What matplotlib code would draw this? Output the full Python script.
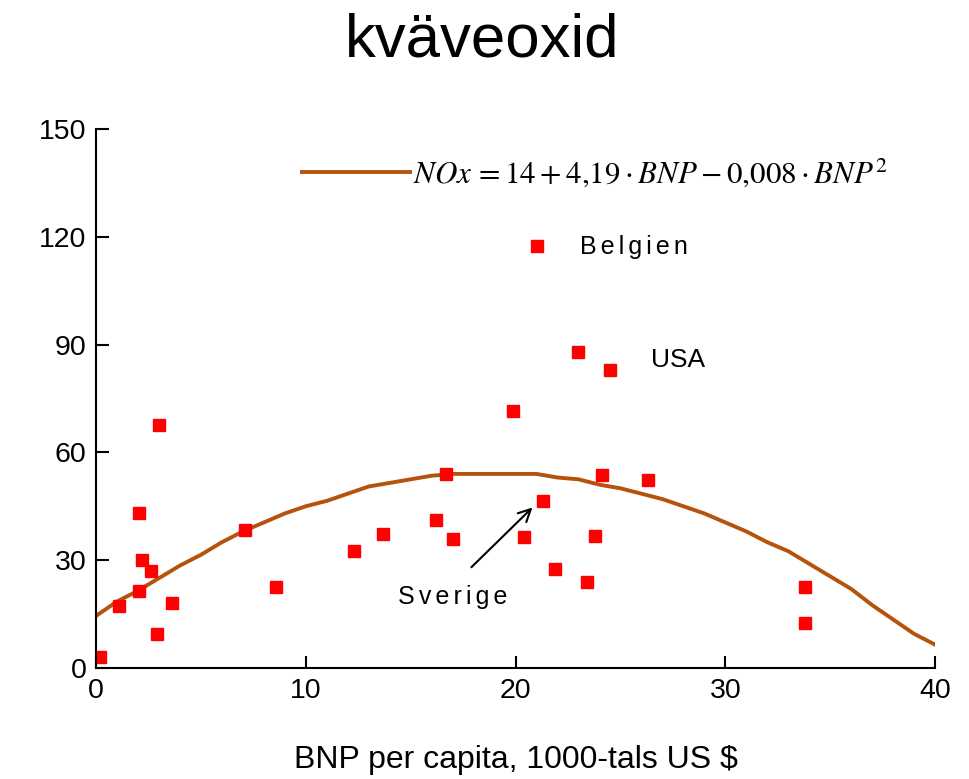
import matplotlib
matplotlib.use("Agg")
from matplotlib import pyplot

pyplot.rcParams["font.family"] = ["Liberation Sans", "DejaVu Sans"]
pyplot.rcParams["mathtext.fontset"] = "stix"

# Scatter data: BNP per capita (1000 US $) vs NOx
bnp = [0.2, 1.1, 2.05, 2.07, 2.2, 2.6, 3.0, 2.9, 3.6, 7.1, 8.6,
       12.3, 13.7, 16.2, 17.0, 16.7, 19.9, 21.3, 20.4, 21.9, 23.8, 23.4,
       24.1, 26.3, 21.0, 23.0, 24.5, 33.8, 33.8]
nox = [3, 17.3, 21.5, 43, 30, 27, 67.5, 9.5, 18, 38.5, 22.5,
       32.5, 37.2, 41.2, 36, 54, 71.5, 46.5, 36.5, 27.5, 36.8, 24,
       53.8, 52.3, 117.5, 88, 82.8, 22.5, 12.5]

# Fitted curve as drawn
curve_x = list(range(0, 41))
curve_y = [14.5, 18.5, 21.5, 25, 28.5, 31.5, 35, 38, 40.5, 43,
           45, 46.5, 48.5, 50.5, 51.5, 52.5, 53.5, 54, 54, 54,
           54, 54, 53, 52.5, 51, 50, 48.5, 47, 45, 43,
           40.5, 38, 35, 32.5, 29, 25.5, 22, 17.5, 13.5, 9.5, 6.5]

fig = pyplot.figure(figsize=(9.7, 7.79), dpi=100)
ax = fig.add_axes([0.099, 0.1425, 0.865, 0.692])

ax.plot(curve_x, curve_y, color="#B5520B", linewidth=2.8,
        label=r"$NOx\,=14+4{,}19\cdot BNP-0{,}008\cdot BNP^{2}$")
ax.plot(bnp, nox, linestyle="none", marker="s", markersize=8.8, color="#FF0000")

ax.set_xlim(0, 40)
ax.set_ylim(0, 150)
ax.set_xticks([0, 10, 20, 30, 40])
ax.set_yticks([0, 30, 60, 90, 120, 150])
ax.tick_params(direction="in", length=9, width=1.5, labelsize=20.5, pad=7)
ax.spines["right"].set_visible(False)
ax.spines["top"].set_visible(False)
ax.spines["left"].set_linewidth(1.5)
ax.spines["bottom"].set_linewidth(1.5)

ax.set_xlabel("BNP per capita, 1000-tals US $", fontsize=23, labelpad=30)
fig.text(0.497, 0.948, "kväveoxid", fontsize=44.5, ha="center", va="center")

sp = "\u2006"
ax.text(25.65, 117.2, sp.join("Belgien"), fontsize=18, va="center", ha="center")
ax.text(27.75, 85.7, "USA", fontsize=19, va="center", ha="center")
ax.annotate("", xy=(20.9, 45.2), xytext=(17.8, 27.5),
            arrowprops=dict(arrowstyle="->", color="black", lw=1.5, mutation_scale=22))
ax.text(17.0, 19.8, sp.join("Sverige"), fontsize=18, va="center", ha="center")

ax.legend(loc="upper left", bbox_to_anchor=(0.212, 1.0), frameon=False,
          fontsize=22.3, handlelength=3.5, handletextpad=0.1)

pyplot.savefig("out.png", dpi=100)
